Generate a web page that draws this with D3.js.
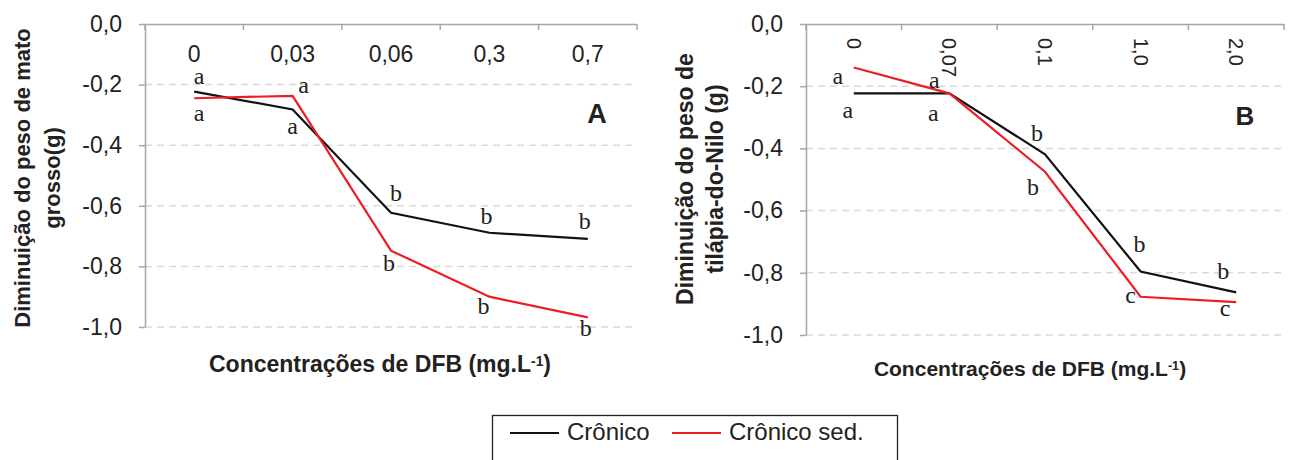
<!DOCTYPE html>
<html>
<head>
<meta charset="utf-8">
<script src="https://cdn.jsdelivr.net/npm/d3@7"></script>
<style>
  body { margin: 0; background: #fff; }
  text { font-family: "Liberation Sans", Arial, sans-serif; fill: #222; }
  .letter { font-family: "Liberation Serif", "Times New Roman", serif; }
</style>
</head>
<body>
<div id="chart"></div>
<script>
// panel A - mato grosso
var catsA = ["0", "0,03", "0,06", "0,3", "0,7"];
var cronicoA = [-0.223, -0.282, -0.623, -0.689, -0.709];
var cronicoSedA = [-0.245, -0.237, -0.748, -0.900, -0.968];
var lettersCronicoA = ["a", "a", "b", "b", "b"];
var lettersSedA = ["a", "a", "b", "b", "b"];

// panel B - tilapia-do-Nilo
var catsB = ["0", "0,07", "0,1", "1,0", "2,0"];
var cronicoB = [-0.223, -0.223, -0.419, -0.796, -0.863];
var cronicoSedB = [-0.140, -0.223, -0.475, -0.877, -0.894];
var lettersCronicoB = ["a", "a", "b", "b", "b"];
var lettersSedB = ["a", "a", "b", "c", "c"];

var yTicks = [0, -0.2, -0.4, -0.6, -0.8, -1.0];
var seriesNames = ["Crônico", "Crônico sed."];
var colors = ["#111", "#ee1d23"];

// where each significance letter sits relative to its point [dx, dy]
var nudgeA = [
    [[5, -13], [0, 19], [5, -20], [-3, -17], [-3, -18]],
    [[5, 17], [11, -8], [-2, 12], [-6, 9], [-2, 11]]
];
var nudgeB = [
    [[-6, 19], [-16, 22], [-8, -21], [-1, -28], [-13, -22]],
    [[-16, 11], [-15, -11], [-12, 15], [-10, 1], [-11, 8]]
];

var svg = d3.select("#chart").append("svg")
    .attr("width", 1293)
    .attr("height", 460);

function fmt(d){ return d.toFixed(1).replace(".", ","); }

function drawPanel(opt){
    var x = d3.scaleBand().domain(opt.cats).range([opt.left, opt.right]);
    var y = d3.scaleLinear().domain([-1, 0]).range([opt.bottom, opt.top]);
    var g = svg.append("g");

    // dashed grid
    g.selectAll(".grid")
        .data(yTicks.filter(d => d != 0))
        .enter().append("line")
        .attr("x1", opt.left).attr("x2", opt.right)
        .attr("y1", d => y(d)).attr("y2", d => y(d))
        .attr("stroke", "#d9d9d9")
        .attr("stroke-width", 1.5)
        .attr("stroke-dasharray", "7,5");

    // y axis
    var ya = g.append("g")
        .attr("transform", "translate(" + opt.left + ",0)")
        .call(d3.axisLeft(y).tickValues(yTicks).tickFormat(fmt).tickSize(6).tickSizeOuter(0).tickPadding(17));
    ya.select(".domain").attr("stroke", "#a6a6a6").attr("stroke-width", 1.5);
    ya.selectAll(".tick line").attr("stroke", "#a6a6a6").attr("stroke-width", 1.5);
    ya.selectAll(".tick text").style("font-size", "23px").attr("fill", "#222")
        .style("font-family", '"Liberation Sans", Arial, sans-serif');

    // x axis along the top, labels inside the plot
    var xa = g.append("g")
        .attr("transform", "translate(0," + opt.top + ")")
        .call(d3.axisBottom(x).tickSize(0).tickSizeOuter(0).tickPadding(21.5));
    xa.select(".domain").attr("stroke", "#a6a6a6").attr("stroke-width", 1.5);
    xa.selectAll(".tick text").attr("fill", "#222")
        .style("font-family", '"Liberation Sans", Arial, sans-serif')
        .style("font-size", opt.rotate ? "20px" : "23px");
    if (opt.rotate){
        xa.selectAll(".tick text")
            .attr("y", 0).attr("dy", "0.35em")
            .attr("transform", "translate(0,14) rotate(90)")
            .attr("text-anchor", "start");
    }
    // category boundary ticks
    var bounds = opt.cats.map(c => x(c)).concat([x.range()[1]]);
    g.selectAll(".bt")
        .data(bounds)
        .enter().append("line")
        .attr("x1", d => d).attr("x2", d => d)
        .attr("y1", opt.top).attr("y2", opt.top + 6)
        .attr("stroke", "#a6a6a6")
        .attr("stroke-width", 1.5);

    var line = d3.line()
        .x((d, i) => x(opt.cats[i]) + x.bandwidth() / 2)
        .y(d => y(d));

    opt.series.forEach(function(s, k){
        g.append("path")
            .datum(s)
            .attr("d", line)
            .attr("fill", "none")
            .attr("stroke", colors[k])
            .attr("stroke-width", 2.2);

        g.selectAll(".lt" + k)
            .data(opt.letters[k])
            .enter().append("text")
            .attr("class", "letter")
            .attr("x", (d, i) => x(opt.cats[i]) + x.bandwidth() / 2 + opt.nudge[k][i][0])
            .attr("y", (d, i) => y(s[i]) + opt.nudge[k][i][1] + (d == "b" ? 0.34 : 0.23) * 24)
            .attr("text-anchor", "middle")
            .style("font-size", "24px")
            .text(d => d);
    });

    // panel tag
    g.append("text")
        .attr("x", opt.tagX).attr("y", opt.tagY)
        .attr("text-anchor", "middle")
        .style("font-size", opt.tagSize + "px")
        .style("font-weight", "bold")
        .text(opt.tag);

    // x title
    var xt = g.append("text")
        .attr("x", opt.xTitleX).attr("y", opt.xTitleY)
        .attr("text-anchor", "middle")
        .style("font-size", opt.xTitleSize + "px")
        .style("font-weight", "bold");
    xt.append("tspan").text("Concentrações de DFB (mg.L");
    xt.append("tspan").attr("dy", "-0.45em").style("font-size", "0.6em").text("-1");
    xt.append("tspan").attr("dy", "0.27em").text(")");

    // y title, two lines
    var yt = g.append("text")
        .attr("transform", "translate(" + opt.yTitleX + "," + opt.yTitleY + ") rotate(-90)")
        .attr("text-anchor", "middle")
        .style("font-size", opt.yTitleSize + "px")
        .style("font-weight", "bold");
    opt.yTitle.forEach(function(t, i){
        yt.append("tspan").attr("x", 0).attr("y", i * 30).text(t);
    });
}

drawPanel({
    cats: catsA, series: [cronicoA, cronicoSedA], letters: [lettersCronicoA, lettersSedA], nudge: nudgeA,
    left: 145, right: 637, top: 24, bottom: 327, rotate: false,
    tag: "A", tagX: 597, tagY: 123, tagSize: 27,
    xTitleX: 380, xTitleY: 372, xTitleSize: 23,
    yTitle: ["Diminuição do peso de mato", "grosso(g)"], yTitleX: 30, yTitleY: 178, yTitleSize: 22
});

drawPanel({
    cats: catsB, series: [cronicoB, cronicoSedB], letters: [lettersCronicoB, lettersSedB], nudge: nudgeB,
    left: 806, right: 1284, top: 24, bottom: 335, rotate: true,
    tag: "B", tagX: 1245, tagY: 125, tagSize: 26,
    xTitleX: 1030, xTitleY: 376, xTitleSize: 21,
    yTitle: ["Diminuição do peso de", "tilápia-do-Nilo (g)"], yTitleX: 693, yTitleY: 179, yTitleSize: 23
});

// legend
var leg = svg.append("g");
leg.append("rect")
    .attr("x", 492.5).attr("y", 415.5)
    .attr("width", 405).attr("height", 70)
    .attr("fill", "none")
    .attr("stroke", "#222")
    .attr("stroke-width", 1.3);
var legX = [510, 672];
seriesNames.forEach(function(n, i){
    leg.append("line")
        .attr("x1", legX[i]).attr("x2", legX[i] + 49)
        .attr("y1", 433).attr("y2", 433)
        .attr("stroke", colors[i])
        .attr("stroke-width", 2);
    leg.append("text")
        .attr("x", legX[i] + 57).attr("y", 440)
        .style("font-size", "24px")
        .text(n);
});
</script>
</body>
</html>
